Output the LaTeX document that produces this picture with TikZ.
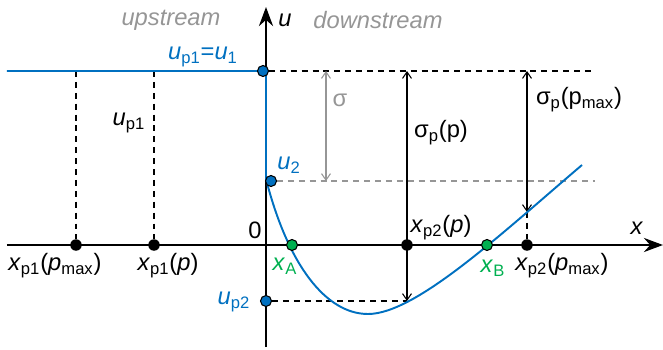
\documentclass[tikz,border=0pt]{standalone}
\usepackage{fontspec}
\setmainfont{Liberation Sans}
\usetikzlibrary{arrows.meta, backgrounds}
\definecolor{lineblue}{RGB}{0,112,192}
\definecolor{ptgreen}{RGB}{0,176,80}
\definecolor{txtgray}{RGB}{150,150,150}
\tikzset{
  axis/.style={line width=1.6pt, -{Stealth[length=3.8mm, width=2.8mm]}},
  curve/.style={draw=lineblue, line width=1.1pt},
  guide/.style={line width=0.8pt, dash pattern=on 3.4pt off 2.8pt},
  dim/.style={{Straight Barb[length=1.3mm, width=1.8mm]}-{Straight Barb[length=1.3mm, width=1.8mm]}, line width=0.6pt},
  dot/.style={circle, fill=black, inner sep=0pt, minimum size=2.3mm},
  pdot/.style={circle, draw=black, fill=#1, line width=0.6pt, inner sep=0pt, minimum size=2.2mm},
  lbl/.style={inner sep=1pt, font=\fontsize{13.5}{16}\selectfont},
}
\newcommand{\itl}[1]{\textit{#1}}
\begin{document}
\begin{tikzpicture}[x=0.02cm, y=0.02cm]
  \useasboundingbox (-266,-104) rectangle (397,245);
  \coordinate (xl) at (-259,0);
  \coordinate (xr) at (397,0);
  \coordinate (ub) at (0,-102);
  \coordinate (ut) at (0,238);
  \coordinate (lft) at (-259,174);
  \coordinate (ctop) at (0,174);
  \coordinate (cbot) at (0,66);
  \coordinate (cmin) at (102,-69);
  \coordinate (cend) at (316,80);
  \coordinate (a1) at (-190,174);
  \coordinate (a2) at (-112,174);
  \coordinate (s0) at (60,174);
  \coordinate (s1) at (60,64);
  \coordinate (b1) at (141,174);
  \coordinate (b2) at (141,-56);
  \coordinate (c1) at (261,174);
  \coordinate (c2) at (261,33);
  \coordinate (topend) at (327,174);
  \coordinate (midend) at (329,64);

  \node[pdot=lineblue] (u1) at (-3,174) {};
  \node[pdot=lineblue] (u2) at (5,64) {};
  \node[pdot=lineblue] (up2) at (0,-56) {};
  \node[pdot=ptgreen] (xA) at (26,0) {};
  \node[pdot=ptgreen] (xB) at (221,0) {};
  \node[dot] (p1max) at (-190,0) {};
  \node[dot] (p1) at (-112,0) {};
  \node[dot] (p2) at (141,0) {};
  \node[dot] (p2max) at (261,0) {};

  \begin{scope}[on background layer]
    \draw[guide] (a1) -- (p1max);
    \draw[guide] (a2) -- (p1);
    \draw[guide] (u1) -- (topend);
    \draw[guide, txtgray] (u2) -- (midend);
    \draw[guide] (up2) -- (b2);
    \draw[guide] (c2) -- (p2max);
    \draw[dim, txtgray] (s0) -- (s1);
    \draw[dim] (b1) -- (b2);
    \draw[dim] (c1) -- (c2);
    \draw[axis] (xl) -- (xr);
    \draw[axis] (ub) -- (ut);
    \draw[curve] (lft) -- (u1.center) -- (ctop) -- (cbot)
      .. controls (22,-20) and (60,-69) .. (cmin)
      .. controls (150,-69) and (236,12) .. (cend);
  \end{scope}

  \node[lbl, txtgray] (up) at (-95,225) {\itl{upstream}};
  \node[lbl, txtgray] (down) at (112,225) {\itl{downstream}};
  \node[lbl] (ulbl) at (19,225) {\itl{u}};
  \node[lbl] (xlbl) at (371,17) {\itl{x}};
  \node[lbl] (zero) at (-11,15) {0};
  \node[lbl, lineblue] (u1lbl) at (-63,188) {\itl{u}\textsubscript{p1}=\itl{u}\textsubscript{1}};
  \node[lbl] (up1lbl) at (-137,122) {\itl{u}\textsubscript{p1}};
  \node[lbl, lineblue] (u2lbl) at (23,80) {\itl{u}\textsubscript{2}};
  \node[lbl, lineblue] (up2lbl) at (-32,-57) {\itl{u}\textsubscript{p2}};
  \node[lbl, txtgray] (sig) at (74,145) {σ};
  \node[lbl] (sigp) at (175,112) {σ\textsubscript{p}(p)};
  \node[lbl] (sigmax) at (313,145) {σ\textsubscript{p}(p\textsubscript{max})};
  \node[lbl] (xp2lbl) at (175,17) {\itl{x}\textsubscript{p2}(\itl{p})};
  \node[lbl] (xp1max) at (-211,-21) {\itl{x}\textsubscript{p1}(\itl{p}\textsubscript{max})};
  \node[lbl] (xp1lbl) at (-98,-21) {\itl{x}\textsubscript{p1}(\itl{p})};
  \node[lbl, ptgreen] (xAlbl) at (19,-21) {\itl{x}\textsubscript{A}};
  \node[lbl, ptgreen] (xBlbl) at (227,-23) {\itl{x}\textsubscript{B}};
  \node[lbl] (xp2max) at (296,-21) {\itl{x}\textsubscript{p2}(\itl{p}\textsubscript{max})};
\end{tikzpicture}
\end{document}
